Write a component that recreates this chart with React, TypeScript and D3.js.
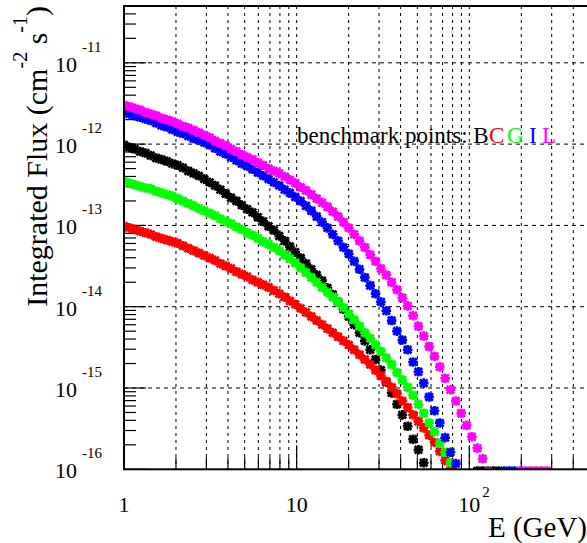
import React from 'react';
import * as d3 from 'd3';

// energy grid (GeV), log-spaced
const energies = [
  1, 1.074, 1.153, 1.239, 1.33, 1.429, 1.535, 1.648, 1.77, 1.901,
  2.042, 2.193, 2.355, 2.529, 2.716, 2.917, 3.133, 3.365, 3.614, 3.882,
  4.169, 4.477, 4.808, 5.164, 5.546, 5.957, 6.397, 6.871, 7.379, 7.925,
  8.511, 9.141, 9.817, 10.54, 11.32, 12.16, 13.06, 14.03, 15.07, 16.18,
  17.38, 18.66, 20.04, 21.53, 23.12, 24.83, 26.67, 28.64, 30.76, 33.04,
  35.48, 38.11, 40.93, 43.95, 47.21, 50.7, 54.45, 58.48, 62.81, 67.45,
  72.44, 77.8, 83.56, 89.74, 96.38, 103.5, 111.2, 119.4, 128.2, 137.7,
  147.9, 158.9, 170.6, 183.2, 196.8, 211.3, 227.0, 243.8, 261.8, 281.2, 302.0,
];

// log10 of integrated flux (cm^-2 s^-1); null = no point
const fluxB = [
  -12.01, -12.04, -12.06, -12.09, -12.11, -12.14, -12.17, -12.19, -12.21, -12.24,
  -12.26, -12.29, -12.33, -12.36, -12.39, -12.43, -12.47, -12.51, -12.56, -12.61,
  -12.66, -12.7, -12.75, -12.8, -12.84, -12.9, -12.95, -13.01, -13.06, -13.13,
  -13.19, -13.26, -13.33, -13.4, -13.47, -13.54, -13.61, -13.68, -13.77, -13.85,
  -13.94, -14.03, -14.12, -14.22, -14.32, -14.42, -14.53, -14.65, -14.78, -14.93,
  -15.06, -15.2, -15.33, -15.47, -15.63, -15.76, -15.92,
  null, null, null, null, null, null, null, null, null,
  -16.02, -16.02, -16.02, -16.02, -16.02,
];
const fluxC = [
  -13.01, -13.03, -13.05, -13.07, -13.09, -13.11, -13.14, -13.16, -13.18, -13.2,
  -13.22, -13.25, -13.28, -13.31, -13.34, -13.37, -13.4, -13.43, -13.47, -13.5,
  -13.53, -13.57, -13.6, -13.63, -13.67, -13.7, -13.73, -13.76, -13.8, -13.84,
  -13.88, -13.93, -13.97, -14.02, -14.07, -14.12, -14.17, -14.22, -14.27, -14.32,
  -14.37, -14.42, -14.47, -14.53, -14.59, -14.65, -14.71, -14.78, -14.85, -14.92,
  -14.99, -15.07, -15.16, -15.24, -15.33, -15.41, -15.49, -15.58, -15.67, -15.78,
  -15.89, -15.99,
];
const fluxG = [
  -12.46, -12.48, -12.5, -12.52, -12.54, -12.55, -12.58, -12.6, -12.62, -12.64,
  -12.67, -12.7, -12.73, -12.76, -12.79, -12.82, -12.85, -12.88, -12.92, -12.95,
  -12.98, -13.02, -13.05, -13.09, -13.12, -13.16, -13.2, -13.23, -13.27, -13.31,
  -13.36, -13.41, -13.46, -13.52, -13.58, -13.64, -13.7, -13.76, -13.82, -13.88,
  -13.94, -14.01, -14.09, -14.16, -14.24, -14.32, -14.39, -14.47, -14.55, -14.63,
  -14.71, -14.81, -14.9, -14.99, -15.09, -15.2, -15.31, -15.43, -15.54, -15.68,
  -15.79, -15.92,
];
const fluxI = [
  -11.6, -11.63, -11.65, -11.67, -11.69, -11.71, -11.74, -11.77, -11.79, -11.82,
  -11.85, -11.87, -11.9, -11.93, -11.95, -11.98, -12.01, -12.05, -12.09, -12.12,
  -12.16, -12.2, -12.24, -12.27, -12.31, -12.35, -12.39, -12.43, -12.47, -12.51,
  -12.56, -12.6, -12.65, -12.7, -12.76, -12.82, -12.89, -12.96, -13.03, -13.11,
  -13.19, -13.27, -13.35, -13.44, -13.54, -13.64, -13.74, -13.84, -13.94, -14.05,
  -14.17, -14.3, -14.41, -14.53, -14.68, -14.8, -14.94, -15.11, -15.28, -15.43,
  -15.61, -15.79, -15.93,
  null, null, null, null, null, null, null, null,
  -16.02, -16.02, -16.02,
];
const fluxL = [
  -11.52, -11.54, -11.56, -11.58, -11.61, -11.63, -11.65, -11.68, -11.7, -11.72,
  -11.75, -11.78, -11.8, -11.83, -11.86, -11.89, -11.92, -11.96, -11.99, -12.02,
  -12.06, -12.09, -12.13, -12.16, -12.19, -12.23, -12.26, -12.3, -12.33, -12.36,
  -12.4, -12.44, -12.48, -12.53, -12.57, -12.62, -12.67, -12.72, -12.77, -12.83,
  -12.89, -12.96, -13.03, -13.11, -13.19, -13.27, -13.36, -13.44, -13.53, -13.61,
  -13.7, -13.79, -13.89, -13.99, -14.11, -14.24, -14.36, -14.49, -14.61, -14.74,
  -14.88, -15.02, -15.16, -15.31, -15.46, -15.6, -15.74, -15.87,
  -16.03, null, null, null, null, null,
  -16.02, -16.02, -16.02, -16.02, -16.02, -16.02,
];

const seriesNames = ['B', 'C', 'G', 'I', 'L'];
const seriesColors = ['#000000', '#ff0000', '#00ff00', '#0000ff', '#ff00ff'];
const seriesFlux = [fluxB, fluxC, fluxG, fluxI, fluxL];

const xLabels = [
  { v: 1, base: '1', exp: '' },
  { v: 10, base: '10', exp: '' },
  { v: 100, base: '10', exp: '2' },
];
const yLabelExps = [-11, -12, -13, -14, -15, -16];

const W = 587;
const H = 543;
const serif = '"Liberation Serif", "Times New Roman", serif';

const x = d3.scaleLog().domain([1, 500]).range([124, 590]);
const y = d3.scaleLog().domain([1e-16, 5e-11]).range([469.3, 6]);

const isPow10 = (v: number) => Math.abs(Math.log10(v) - Math.round(Math.log10(v))) < 1e-6;

// asterisk marker, like ROOT style 3 drawn bold
const markerPath = (r: number) => {
  const d = r * 0.78;
  return `M${-r},0H${r}M0,${-r}V${r}M${-d},${-d}L${d},${d}M${-d},${d}L${d},${-d}`;
};

export default function App() {
  const [x0, x1] = x.range();
  const [yb, yt] = y.range();
  const xTicks = x.ticks();
  const yTicks = y.ticks();

  return (
    <svg width={W} height={H} style={{ position: 'absolute', left: 0, top: 0, background: '#fff' }}
      fontFamily={serif}>
      <defs>
        <clipPath id="frame">
          <rect x={x0} y={yt} width={x1 - x0} height={yb - yt} />
        </clipPath>
      </defs>

      {/* grid */}
      {xTicks.filter(t => t > 1).map((t, i) => (
        <line key={'vg' + i} x1={x(t)} x2={x(t)} y1={yt} y2={yb} stroke="#000" strokeWidth={1} strokeDasharray="3,4" />
      ))}
      {yTicks.filter(t => isPow10(t) && t > 1.01e-16).map((t, i) => (
        <line key={'hg' + i} x1={x0} x2={x1} y1={y(t)} y2={y(t)} stroke="#000" strokeWidth={1} strokeDasharray="4,4" />
      ))}

      {/* ticks */}
      {yTicks.map((t, i) => {
        const major = isPow10(t);
        return <line key={'yt' + i} x1={x0} x2={x0 + (major ? 22 : 12)} y1={y(t)} y2={y(t)} stroke="#000" strokeWidth={1.2} />;
      })}
      {xTicks.map((t, i) => {
        const major = isPow10(t);
        return <line key={'xt' + i} x1={x(t)} x2={x(t)} y1={yb} y2={yb - (major ? 24 : 12)} stroke="#000" strokeWidth={1.2} />;
      })}

      {/* markers */}
      <g clipPath="url(#frame)">
        {seriesFlux.map((flux, s) => (
          <g key={seriesNames[s]} stroke={seriesColors[s]} strokeWidth={2.7} fill="none">
            {flux.map((v, i) => v === null ? null : (
              <path key={i} transform={`translate(${x(energies[i])},${y(Math.pow(10, v))})`} d={markerPath(4.8)} />
            ))}
          </g>
        ))}
      </g>

      {/* frame */}
      <rect x={x0} y={yt} width={x1 - x0} height={yb - yt} fill="none" stroke="#000" strokeWidth={2} />

      {/* y tick labels */}
      {yLabelExps.map(e => {
        const py = y(Math.pow(10, e));
        return (
          <g key={'yl' + e}>
            <text x={77} y={py + 9} fontSize={22} textAnchor="end">10</text>
            <text x={82} y={py - 11} fontSize={15}>{e}</text>
          </g>
        );
      })}

      {/* x tick labels */}
      {xLabels.map(l => (
        <g key={'xl' + l.v}>
          <text x={x(l.v)} y={512} fontSize={22} textAnchor="middle">{l.base}</text>
          {l.exp && <text x={x(l.v) + 13} y={497} fontSize={15}>{l.exp}</text>}
        </g>
      ))}

      {/* axis titles */}
      <text x={587} y={537} fontSize={29} textAnchor="end">E (GeV)</text>
      <text transform="translate(47,6) rotate(-90)" fontSize={30} textAnchor="end">
        Integrated Flux (cm<tspan dy={-20} fontSize={20}>-2</tspan><tspan dy={20}> s</tspan>
        <tspan dy={-20} fontSize={20}>-1</tspan><tspan dy={20}>)</tspan>
      </text>

      {/* legend */}
      <text x={297} y={143} fontSize={23}>benchmark points: B</text>
      <text x={489} y={143} fontSize={23} fill={seriesColors[1]}>C</text>
      <text x={507} y={143} fontSize={23} fill={seriesColors[2]}>G</text>
      <text x={529} y={143} fontSize={23} fill={seriesColors[3]}>I</text>
      <text x={542} y={143} fontSize={23} fill={seriesColors[4]}>L</text>
    </svg>
  );
}
